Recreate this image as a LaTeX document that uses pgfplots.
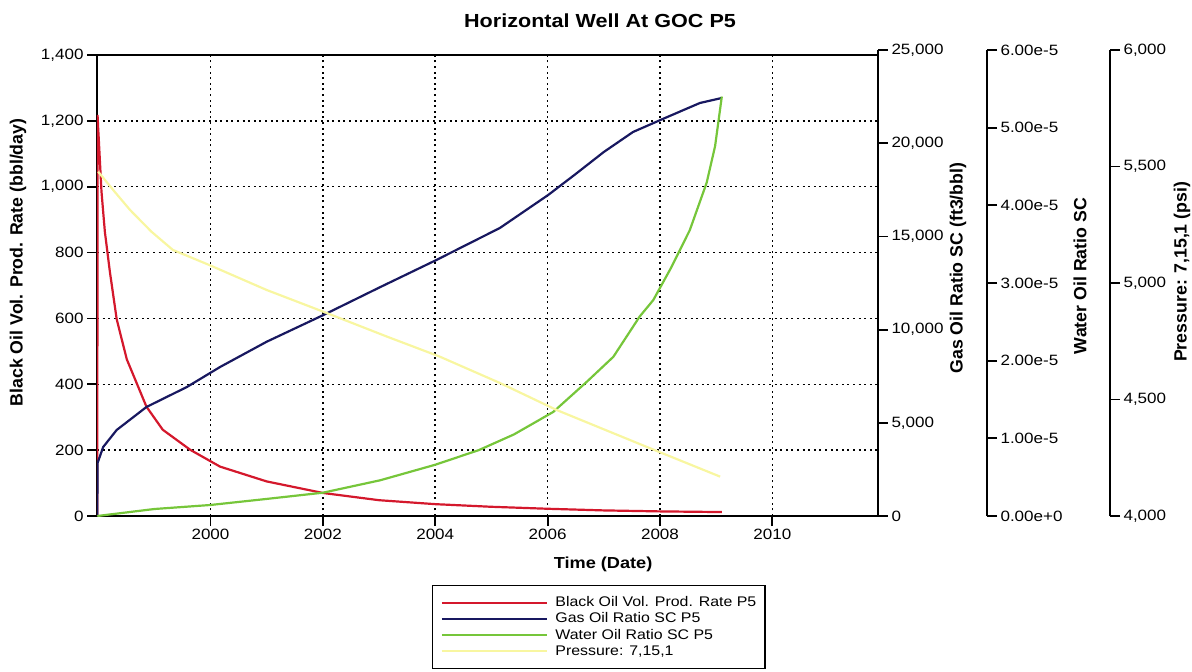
\documentclass[border=0pt]{standalone}
\usepackage{fontspec}
\setmainfont{Liberation Sans}[FakeStretch=1.14]
\newfontfamily\plainfont{Liberation Sans}
\usepackage{pgfplots}
\pgfplotsset{compat=1.18}

\definecolor{oilred}{RGB}{212,24,44}
\definecolor{gorblue}{RGB}{24,24,96}
\definecolor{worgreen}{RGB}{118,198,58}
\definecolor{presyellow}{RGB}{248,246,160}

\pgfplotsset{
  common/.style={
    scale only axis,
    scaled ticks=false,
    /pgf/number format/assume math mode=true,
    /pgf/number format/1000 sep={,},
    tick label style={font=\fontsize{15}{17}\selectfont, black},
    ylabel style={font=\plainfont\bfseries\fontsize{17.8}{19}\selectfont},
    xlabel style={font=\bfseries\fontsize{16}{18}\selectfont},
    axis line style={line width=1.8bp, black},
    tick style={line width=1.8bp, black},
    major tick length=10bp,
    tick align=outside,
  },
  base/.style={common, width=781bp, xmin=1997.98, xmax=2011.88},
  rightspine/.style={common,
    width=20bp, height=466bp,
    xmin=0, xmax=1,
    axis x line=none, axis y line*=right,
  },
}

\begin{document}
\begin{tikzpicture}
\useasboundingbox (0,0) rectangle (1192bp,-672bp);
\clip (0,0) rectangle (1192bp,-672bp);

\node[font=\bfseries\fontsize{19}{21}\selectfont] at (600bp,-21bp) {Horizontal Well At GOC P5};

% main axis: oil rate
\begin{axis}[base,
  at={(97bp,-516bp)}, anchor=south west, height=461bp,
  ymin=0, ymax=1400, ytick={0,200,...,1400},
  xtick={2000,2002,2004,2006,2008,2010},
  xticklabels={2000,2002,2004,2006,2008,2010},
  tick pos=left,
  xmajorgrids, ymajorgrids,
  grid style={black, line width=1.5bp, dash pattern=on 2bp off 3.6bp},
  xlabel={Time (Date)},
  xlabel style={at={(axis description cs:0.648,-0.106)}, anchor=center},
  ylabel={Black Oil Vol. Prod. Rate (bbl/day)},
  ylabel style={at={(axis description cs:-0.101,0.55)}, anchor=center},
  legend cell align=left,
  legend image code/.code={\draw[#1, line width=2.2bp] (0bp,0bp) -- (105bp,0bp);},
  legend style={at={(axis description cs:0.429,-0.1497)}, anchor=north west,
    draw=black, line width=1.2bp, font=\fontsize{14}{16}\selectfont,
    inner xsep=8bp, inner ysep=9bp, row sep=0bp,
    nodes={inner sep=0.6bp, text height=11.5bp, text depth=3.5bp},
    /tikz/every odd column/.append style={column sep=7bp},
    /tikz/every even column/.append style={column sep=8bp}},
]
\addplot[oilred, line width=2.2bp] coordinates {
(1997.985,0) (1997.99,1218) (1998.0,1180) (1998.01,1150) (1998.06,985)
(1998.12,863) (1998.21,741) (1998.33,598) (1998.51,476) (1998.86,332)
(1999.15,262) (1999.64,201) (2000.17,150) (2001.0,105) (2002.0,70)
(2003.0,48) (2004.0,36) (2005.0,28) (2006.0,22) (2007.0,17)
(2008.0,14) (2009.1,12)
};
\addlegendentry{Black Oil Vol. Prod. Rate P5}
\addlegendimage{gorblue}
\addlegendentry{Gas Oil Ratio SC P5}
\addlegendimage{worgreen}
\addlegendentry{Water Oil Ratio SC P5}
\addlegendimage{presyellow}
\addlegendentry{Pressure: 7,15,1}
\end{axis}

% gas oil ratio
\begin{axis}[base,
  at={(97bp,-516bp)}, anchor=south west, height=466bp,
  ymin=0, ymax=25000, ytick={0,5000,...,25000},
  axis x line=none, axis y line*=right,
  ylabel={Gas Oil Ratio SC (ft3/bbl)},
  ylabel style={at={(axis description cs:1.1025,0.532)}, anchor=center},
]
\addplot[gorblue, line width=2.2bp] coordinates {
(1997.985,0) (1997.99,2843) (1998.09,3702) (1998.33,4614) (1998.86,5848)
(1999.58,6921) (2000.17,7994) (2001.0,9350) (2002.01,10784) (2003.0,12250)
(2004.02,13734) (2005.15,15451) (2006.01,17222) (2006.5,18350) (2007.0,19529)
(2007.52,20602) (2008.09,21353) (2008.71,22157) (2009.10,22426)
};
\end{axis}

% water oil ratio data
\begin{axis}[base, hide axis,
  at={(97bp,-516bp)}, anchor=south west, height=466bp,
  ymin=0, ymax=6e-5,
]
\addplot[worgreen, line width=2.2bp] coordinates {
(1997.985,0) (1999.0,0.9e-6) (2000.0,1.42e-6) (2001.0,2.2e-6) (2002.0,3.0e-6)
(2003.02,4.6e-6) (2004.0,6.6e-6) (2004.78,8.5e-6) (2005.4,1.05e-5) (2006.1,1.34e-5)
(2006.7,1.73e-5) (2007.17,2.05e-5) (2007.64,2.57e-5) (2007.88,2.78e-5) (2008.2,3.2e-5)
(2008.53,3.68e-5) (2008.83,4.29e-5) (2008.98,4.76e-5) (2009.10,5.4e-5)
};
\end{axis}

% pressure data
\begin{axis}[base, hide axis,
  at={(97bp,-516bp)}, anchor=south west, height=466bp,
  ymin=4000, ymax=6000,
]
\addplot[presyellow, line width=2.2bp] coordinates {
(1998.0,5478) (1998.3,5390) (1998.57,5313) (1998.95,5220) (1999.33,5142)
(2000.0,5075) (2001.0,4970) (2002.07,4871) (2003.14,4770) (2004.08,4684)
(2005.15,4571) (2006.16,4455) (2007.76,4297) (2009.07,4169)
};
\end{axis}

% water oil ratio spine
\begin{axis}[rightspine,
  at={(987bp,-516bp)}, anchor=south east,
  ymin=0, ymax=6e-5, ytick={0,1e-5,2e-5,3e-5,4e-5,5e-5,6e-5},
  yticklabels={0.00e+0,1.00e-5,2.00e-5,3.00e-5,4.00e-5,5.00e-5,6.00e-5},
  ylabel={Water Oil Ratio SC},
  ylabel style={at={(axis description cs:5.65,0.515)}, anchor=center},
]
\end{axis}

% pressure spine
\begin{axis}[rightspine,
  at={(1110bp,-516bp)}, anchor=south east,
  ymin=4000, ymax=6000, ytick={4000,4500,...,6000},
  ylabel={Pressure: 7,15,1 (psi)},
  ylabel style={at={(axis description cs:4.6,0.524)}, anchor=center},
]
\end{axis}
\end{tikzpicture}
\end{document}
